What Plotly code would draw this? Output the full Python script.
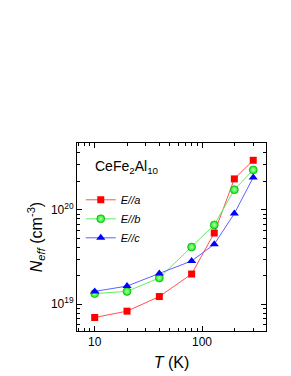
import plotly.graph_objects as go

T = [10, 20, 40, 80, 130, 200, 300]
N_a = [7.2e18, 8.4e18, 1.2e19, 2.08e19, 5.66e19, 2.12e20, 3.34e20]
N_b = [1.29e19, 1.36e19, 1.89e19, 4.02e19, 6.9e19, 1.63e20, 2.64e20]
N_c = [1.36e19, 1.55e19, 2.11e19, 2.86e19, 4.3e19, 9.1e19, 2.2e20]

fig = go.Figure()
fig.add_trace(go.Scatter(x=T, y=N_a, mode="lines+markers", name="<i>E//a</i>",
                         line=dict(color="#FF5050", width=1),
                         marker=dict(symbol="square", size=7, color="#FF0000")))
fig.add_trace(go.Scatter(x=T, y=N_b, mode="lines+markers", name="<i>E//b</i>",
                         line=dict(color="#60EE60", width=1),
                         marker=dict(symbol="circle", size=8, color="#00EE00",
                                     gradient=dict(type="radial", color="#C0FFC0"),
                                     line=dict(color="#119911", width=0.6))))
fig.add_trace(go.Scatter(x=T, y=N_c, mode="lines+markers", name="<i>E//c</i>",
                         line=dict(color="#6060FF", width=1),
                         marker=dict(symbol="triangle-up", size=8, color="#0000FF")))

axis_common = dict(showline=True, linecolor="black", linewidth=1, mirror="allticks",
                   ticks="inside", ticklen=5, tickcolor="black", showgrid=False,
                   zeroline=False, tickfont=dict(family="Liberation Sans", size=12, color="black"),
                   minor=dict(ticks="inside", ticklen=3, tickcolor="black", dtick="D1", showgrid=False))

fig.update_xaxes(type="log", range=[0.835, 2.596], tickvals=[10, 100], ticktext=["10", "100"],
                 title=dict(text="<i>T</i> (K)", font=dict(family="Liberation Sans", size=16, color="black"),
                            standoff=8),
                 **axis_common)
fig.update_yaxes(type="log", range=[18.714, 20.707], tickvals=[1e19, 1e20],
                 ticktext=["10<sup>19</sup>", "10<sup>20</sup>"],
                 title=dict(text="<i>N<sub>eff</sub></i> (cm<sup>-3</sup>)",
                            font=dict(family="Liberation Sans", size=16, color="black"), standoff=4),
                 **axis_common)

fig.add_annotation(text="CeFe<sub>2</sub>Al<sub>10</sub>", xref="paper", yref="paper",
                   x=0.085, y=0.875, xanchor="left", yanchor="middle", showarrow=False,
                   font=dict(family="Liberation Sans", size=14, color="black"))

fig.update_layout(width=291, height=376, margin=dict(l=69, r=33, t=135, b=53),
                  plot_bgcolor="white", paper_bgcolor="white",
                  legend=dict(x=0.02, y=0.775, xanchor="left", yanchor="top",
                              bgcolor="rgba(0,0,0,0)", font=dict(family="Liberation Sans", size=11, color="black"),
                              itemwidth=30, tracegroupgap=0))

fig.write_html("out.html")
